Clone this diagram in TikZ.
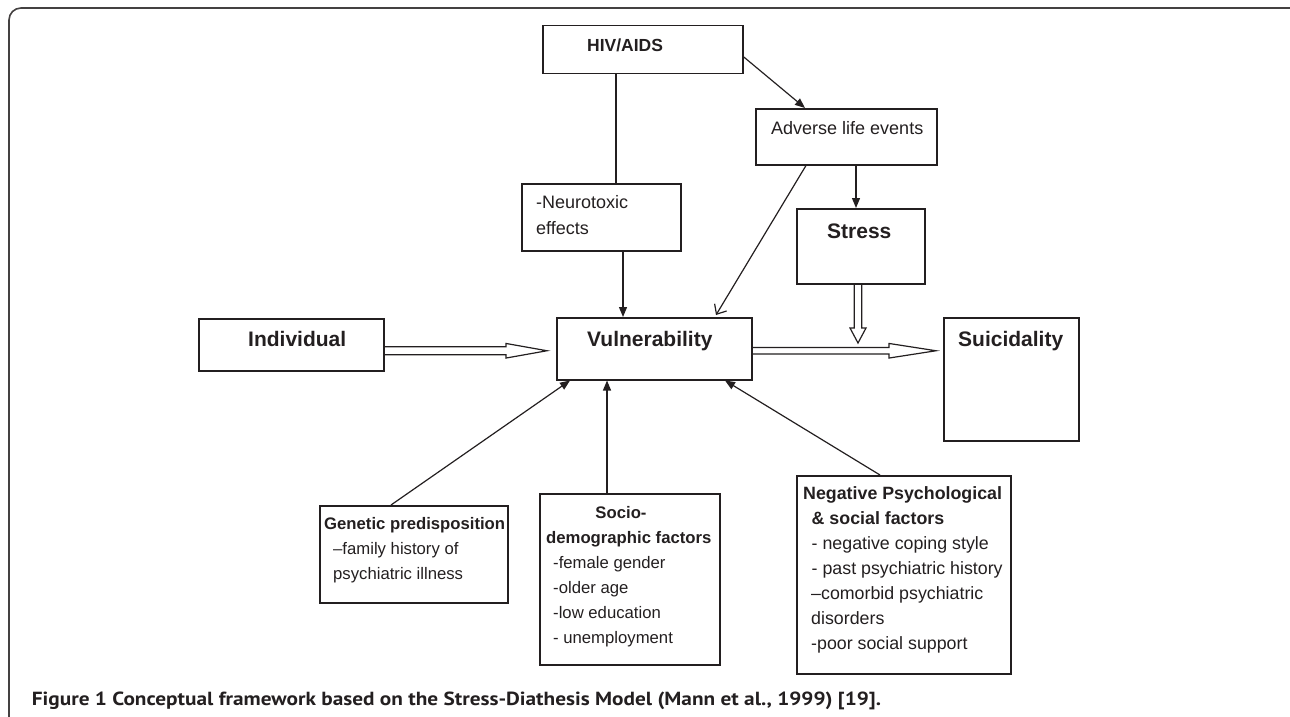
\documentclass[tikz,border=0pt]{standalone}
\usepackage{fontspec}
\setmainfont{Liberation Sans}
\newfontfamily\capfont{PT Sans}
\usetikzlibrary{arrows.meta,calc}
\definecolor{ink}{HTML}{231F20}
\begin{document}
\begin{tikzpicture}[x=1pt,y=-1pt,
 box/.style={draw=ink, line width=1.5pt, inner sep=0pt, anchor=north west},
 txt/.style={inner sep=0pt, anchor=base west, align=left, text=ink},
 big/.style={font=\fontsize{21}{25}\selectfont\bfseries},
 mid/.style={font=\fontsize{18}{26.3}\selectfont},
 sm/.style={font=\fontsize{16.7}{25}\selectfont},
 smb/.style={font=\fontsize{17.8}{25}\selectfont},
 conn/.style={draw=ink, line width=1.2pt},
 solidtip/.style={conn, -{Triangle[length=10pt,width=8pt]}},
 opentip/.style={conn, -{Straight Barb[length=8pt,width=14pt]}},
 hollow/.style={draw=ink, line width=1.2pt, fill=white, line join=miter}
]
\useasboundingbox (0,0) rectangle (1290,717);
\begin{scope}
\clip (0,0) rectangle (1290,717);
\draw[draw=ink!85, line width=1.6pt, rounded corners=12pt] (9,740) -- (9,8) -- (1302,8) -- (1302,740);
\end{scope}

% boxes
\node[box, minimum width=200pt, minimum height=48pt] (hiv) at (542,25) {};
\node[box, minimum width=181pt, minimum height=56pt] (adv) at (755,108) {};
\node[box, minimum width=159pt, minimum height=67pt] (neu) at (521,183) {};
\node[box, minimum width=128pt, minimum height=75pt] (str) at (796,208) {};
\node[box, minimum width=185pt, minimum height=52pt] (ind) at (198,318) {};
\node[box, minimum width=195pt, minimum height=62pt] (vul) at (556,317) {};
\node[box, minimum width=135pt, minimum height=123pt] (sui) at (943,317) {};
\node[box, minimum width=188pt, minimum height=97pt] (gen) at (319,505) {};
\node[box, minimum width=180pt, minimum height=171pt] (soc) at (539,493) {};
\node[box, minimum width=214pt, minimum height=198pt] (neg) at (796,475) {};

% texts (anchor at the baseline of the last line)
\node[txt, font=\fontsize{17.5}{20}\selectfont\bfseries] (hivt) at (587,52) {HIV/AIDS};
\node[txt, mid] (advt) at (771,134) {Adverse life events};
\node[txt, mid] (neut) at (536,234.3) {-Neurotoxic\\effects};
\node[txt, big] (strt) at (827,238) {Stress};
\node[txt, big] (indt) at (248,346) {Individual};
\node[txt, big] (vult) at (587,346) {Vulnerability};
\node[txt, big] (suit) at (958,346) {Suicidality};
\node[txt, sm] (gent) at (324,579.5) {\textbf{Genetic predisposition}\\\hspace*{9pt}–family history of\\\hspace*{9pt}psychiatric illness};
\node[txt, sm, anchor=base] (soct1) at (621,518) {\textbf{Socio-}};
\node[txt, sm] (soct2) at (546,643) {\textbf{demographic factors}\\\hspace*{7pt}-female gender\\\hspace*{7pt}-older age\\\hspace*{7pt}-low education\\\hspace*{7pt}- unemployment};
\node[txt, smb] (negt) at (803,649.5) {\textbf{Negative Psychological}\\\hspace*{8.5pt}\textbf{\& social factors}\\\hspace*{8.5pt}- negative coping style\\\hspace*{8.5pt}- past psychiatric history\\\hspace*{8pt}–comorbid psychiatric\\\hspace*{8pt}disorders\\\hspace*{8pt}-poor social support};

% connectors
\draw[solidtip] ([yshift=-7pt]hiv.east) -- ([xshift=50pt]adv.north west);
\draw[conn] ([xshift=74pt]hiv.south west) -- ([xshift=74pt]hiv.south west |- neu.north);
\draw[solidtip] ([xshift=102pt]neu.south west) -- ([xshift=102pt]neu.south west |- vul.north);
\draw[opentip] ([xshift=51pt]adv.south west) -- ([xshift=160pt,yshift=2pt]vul.north west);
\draw[solidtip] ([xshift=101pt]adv.south west) -- ([xshift=101pt]adv.south west |- str.north);
\draw[solidtip] ([xshift=72pt]gen.north west) -- ([xshift=14pt]vul.south west);
\draw[solidtip] ([xshift=68pt]soc.north west) -- ([xshift=68pt]soc.north west |- vul.south);
\draw[solidtip] ([xshift=84pt]neg.north west) -- ([xshift=169pt]vul.south west);

% hollow double arrows
\coordinate (sdend) at (858,343);
\draw[hollow] let \p1=([xshift=62pt,yshift=-0.7pt]str.south west), \p2=(sdend) in
 (\x1+3.7pt,\y1) -- (\x1+3.7pt,\y2+15pt) -- (\x1+8pt,\y2+15pt) -- (\x1,\y2) -- (\x1-8pt,\y2+15pt) -- (\x1-3.7pt,\y2+15pt) -- (\x1-3.7pt,\y1);
\draw[hollow] let \p1=([xshift=0.7pt,yshift=-6pt]ind.east), \p2=([xshift=-9pt]vul.west) in
 (\x1,\y1+4pt) -- (\x2-41pt,\y1+4pt) -- (\x2-41pt,\y1+7.3pt) -- (\x2,\y1) -- (\x2-41pt,\y1-7.3pt) -- (\x2-41pt,\y1-4pt) -- (\x1,\y1-4pt);
\draw[hollow] let \p1=([xshift=0.7pt,yshift=-2pt]vul.east), \p2=([xshift=-7pt]sui.west) in
 (\x1,\y1+3.3pt) -- (\x2-47pt,\y1+3.3pt) -- (\x2-47pt,\y1+7.3pt) -- (\x2,\y1) -- (\x2-47pt,\y1-7.3pt) -- (\x2-47pt,\y1-3.3pt) -- (\x1,\y1-3.3pt);

% caption
\node[inner sep=0pt, anchor=base west, text=ink] (cap) at (31.7,705) {\capfont\fontsize{19}{22}\selectfont\bfseries\scalebox{1.12}[1]{Figure 1 Conceptual framework based on the Stress-Diathesis Model (Mann et al., 1999) [19].}};
\end{tikzpicture}
\end{document}
